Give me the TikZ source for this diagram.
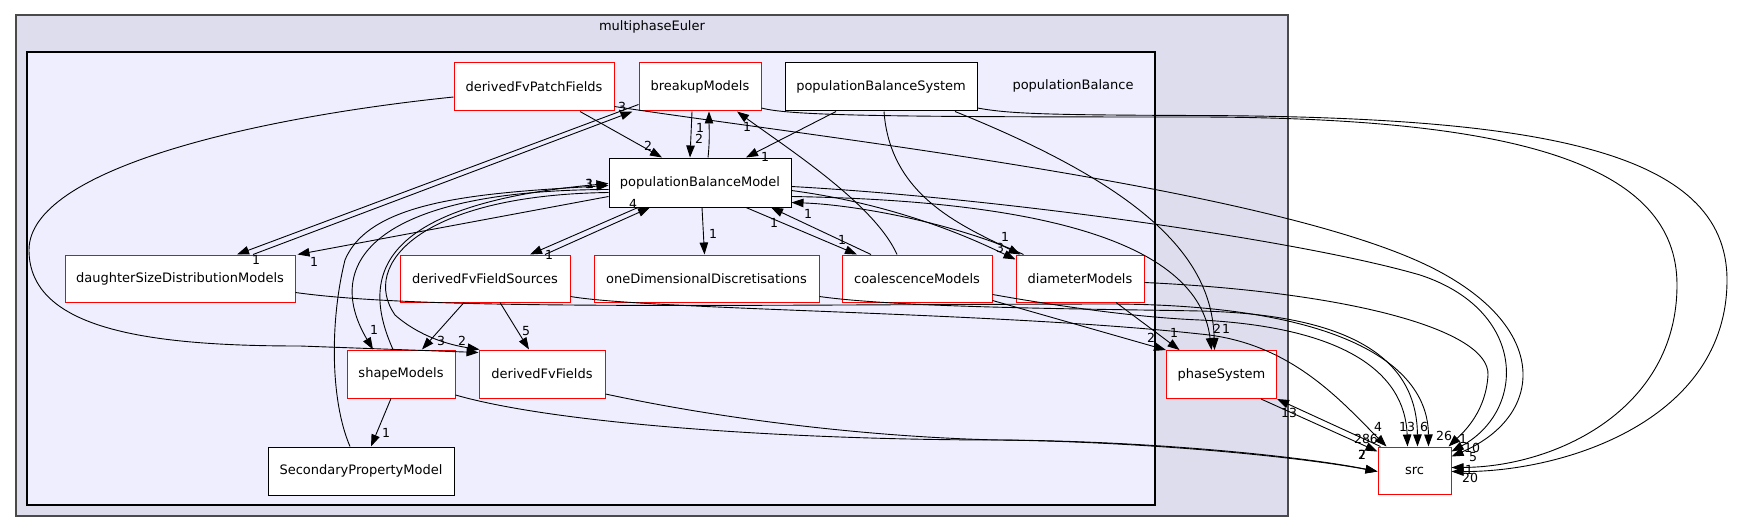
\documentclass[tikz,border=0pt]{standalone}
\usepackage{fontspec}
\setmainfont{DejaVu Sans}
\usetikzlibrary{arrows.meta}
\definecolor{outerfill}{HTML}{DDDDEE}
\definecolor{innerfill}{HTML}{EEEEFF}
\definecolor{outerline}{HTML}{4A4A4A}
\definecolor{redline}{HTML}{FF0000}
\tikzset{
  dirred/.style={draw=redline, fill=white, line width=1pt, inner sep=0pt, minimum height=48pt, font=\fontsize{13}{15}\selectfont},
  dirblk/.style={dirred, draw=black},
  dep/.style={-{Triangle[length=12pt,width=8.5pt]}, line width=0.9pt},
  lab/.style={font=\fontsize{12.5}{14}\selectfont, inner sep=0pt},
  clab/.style={font=\fontsize{13}{15}\selectfont, inner sep=0pt},
}
\begin{document}
\begin{tikzpicture}[x=1pt,y=-1pt]
\useasboundingbox (0,0) rectangle (1745,532);
\fill[white] (0,0) rectangle (1745,532);
\draw[outerline, fill=outerfill, line width=2pt] (15.5,15.5) rectangle (1288,516);
\draw[black, fill=innerfill, line width=1.2pt] (27,52) rectangle (1155,505);
\node[clab] (lme) at (652,27) {multiphaseEuler};
\node[clab] (lpb) at (1073,86) {populationBalance};

% nodes
\node[dirred, minimum width=160pt] (dfpf) at (534,87) {derivedFvPatchFields};
\node[dirred, minimum width=122pt] (brk) at (700,87) {breakupModels};
\node[dirblk, minimum width=192pt] (pbs) at (881,87) {populationBalanceSystem};
\node[dirblk, minimum width=182pt, minimum height=49pt] (pbm) at (700,182.5) {populationBalanceModel};
\node[dirred, minimum width=230pt, minimum height=47pt] (dsd) at (180,278.5) {daughterSizeDistributionModels};
\node[dirred, minimum width=170pt, minimum height=47pt] (dffs) at (485,278.5) {derivedFvFieldSources};
\node[dirred, minimum width=225pt, minimum height=47pt] (odd) at (706.5,278.5) {oneDimensionalDiscretisations};
\node[dirred, minimum width=150pt, minimum height=47pt] (coal) at (917,278.5) {coalescenceModels};
\node[dirred, minimum width=128pt, minimum height=47pt] (diam) at (1080,278.5) {diameterModels};
\node[dirred, minimum width=108pt] (shape) at (401,374) {shapeModels};
\node[dirred, minimum width=126pt] (dff) at (542,374) {derivedFvFields};
\node[dirred, minimum width=110pt, minimum height=48pt] (phase) at (1221.5,374.5) {phaseSystem};
\node[dirblk, minimum width=186pt] (spm) at (361,471) {SecondaryPropertyModel};
\node[dirred, minimum width=73pt, minimum height=47pt] (src) at (1414.5,470.5) {src};

% edges inside
\draw[dep] ([xshift=46pt]dfpf.south) -- ([xshift=-38pt]pbm.north);
\node[lab] (l1) at (648,146) {2};
\draw[dep] ([yshift=-10pt]dfpf.west) .. controls (250,118) and (29,170) .. (29,250) .. controls (29,330) and (150,346) .. (300,346) -- ([yshift=-3pt]dff.north west);
\draw[dep] ([xshift=-8pt]brk.south) -- ([xshift=-10pt]pbm.north);
\node[lab] (l2) at (699,139) {2};
\draw[dep] ([xshift=8pt]pbm.north) .. controls (710,140) and (709,125) .. ([xshift=9pt]brk.south);
\node[lab] (l3) at (700,128) {1};
\draw[dep] ([xshift=-45pt]pbs.south) -- ([xshift=46pt]pbm.north);
\node[lab] (l4) at (765,157) {1};
\draw[dep] ([xshift=3pt]pbs.south) .. controls (890,195) and (960,225) .. ([xshift=5pt]diam.north west);
\node[lab] (l5) at (1005,237) {1};
\draw[dep] ([xshift=74pt]pbs.south) .. controls (1150,190) and (1212,260) .. ([xshift=-7pt]phase.north);
\node[lab] (l6) at (1226,329) {1};
\draw[dep] ([yshift=-14pt]pbm.east) .. controls (1000,200) and (1197,230) .. ([xshift=-10pt]phase.north);
\node[lab] (l7) at (1217,329) {2};
\draw[dep] ([yshift=-8pt]pbm.east) .. controls (900,205) and (975,240) .. ([yshift=-5pt]diam.north west);
\node[lab] (l8) at (1000,248) {3};
\draw[dep] ([xshift=8pt]diam.north west) .. controls (960,225) and (860,205) .. ([yshift=-20pt]pbm.east);
\node[lab] (l9) at (808,214) {1};
\draw[dep] ([xshift=73pt]dsd.north) -- ([xshift=-6pt]brk.south west);
\node[lab] (l10) at (622,107) {3};
\draw[dep] ([yshift=7pt]brk.south west) -- ([xshift=57pt]dsd.north);
\node[lab] (l11) at (256,260) {1};
\draw[dep] ([yshift=-14pt]pbm.west) -- ([xshift=2pt]dsd.north east);
\node[lab] (l12) at (314,262) {1};
\draw[dep] ([xshift=-62pt]pbm.south) -- ([xshift=45pt]dffs.north);
\node[lab] (l13) at (549,255) {1};
\draw[dep] ([xshift=60pt]dffs.north) -- ([xshift=-50pt]pbm.south);
\node[lab] (l14) at (633,204) {4};
\draw[dep] ([xshift=2pt]pbm.south) -- ([xshift=-2pt]odd.north);
\node[lab] (l15) at (713,234) {1};
\draw[dep] ([xshift=46pt]pbm.south) -- ([xshift=-60pt]coal.north);
\node[lab] (l16) at (842,240) {1};
\draw[dep] ([xshift=-46pt]coal.north) -- ([xshift=71pt]pbm.south);
\node[lab] (l17) at (774,223) {1};
\draw[dep] ([xshift=-20pt]coal.north) .. controls (875,205) and (790,150) .. ([xshift=37pt]brk.south);
\node[lab] (l18) at (747,127) {1};
\draw[dep] ([yshift=2pt]coal.south east) -- (phase.north west);
\node[lab] (l19) at (1151,338) {2};
\draw[dep] ([xshift=36pt]diam.south) -- ([xshift=-42pt]phase.north);
\node[lab] (l20) at (1174,333) {1};
\draw[dep] ([xshift=-21pt]dffs.south) -- ([xshift=21pt]shape.north);
\node[lab] (l21) at (441,341) {3};
\draw[dep] ([xshift=15pt]dffs.south) -- ([xshift=-13pt]dff.north);
\node[lab] (l22) at (526,331) {5};
\draw[dep] ([xshift=-10pt]shape.south) -- ([xshift=10pt]spm.north);
\node[lab] (l23) at (386,433) {1};
\draw[dep] ([yshift=-7pt]pbm.west) .. controls (380,190) and (320,260) .. ([xshift=-28pt]shape.north);
\node[lab] (l24) at (374,330) {1};
\draw[dep] ([xshift=-8pt]shape.north) .. controls (362,280) and (370,205) .. ([yshift=-1pt]pbm.west);
\node[lab] (l25) at (589,184) {3};
\draw[dep] ([xshift=-11pt]spm.north) .. controls (330,400) and (330,320) .. (345,260) .. controls (370,200) and (480,193) .. ([yshift=-3pt]pbm.west);
\node[lab] (l26) at (590,184) {1};
\draw[dep] ([yshift=-10pt]pbm.west) .. controls (420,195) and (360,265) .. (395,315) .. controls (420,337) and (450,345) .. ([xshift=1pt]dff.north west);
\node[lab] (l27) at (462,341) {2};

% edges to src
\draw[dep] ([yshift=-14pt]dsd.east) .. controls (420,310) and (700,305) .. (1100,304) .. controls (1330,303) and (1428,360) .. ([xshift=14pt]src.north);
\node[lab] (l28) at (1444,436) {26};
\draw[dep] ([yshift=-18pt]dffs.east) .. controls (650,310) and (1000,312) .. (1200,334) .. controls (1290,342) and (1340,400) .. ([xshift=-28pt]src.north);
\node[lab] (l29) at (1378,427) {4};
\draw[dep] ([yshift=-18pt]odd.east) .. controls (900,308) and (1100,309) .. (1200,311) .. controls (1370,315) and (1417,370) .. ([xshift=3pt]src.north);
\node[lab] (l30) at (1424,427) {6};
\draw[dep] ([yshift=-16pt]coal.east) .. controls (1080,310) and (1150,318) .. (1200,320) .. controls (1340,327) and (1405,370) .. ([xshift=-7pt]src.north);
\node[lab] (l31) at (1407,427) {13};
\draw[dep] ([yshift=-4pt]diam.east) .. controls (1350,292) and (1490,330) .. (1488,375) .. controls (1486,410) and (1466,430) .. ([xshift=-3pt]src.north east);
\node[lab] (l32) at (1463,439) {1};
\draw[dep] ([yshift=-4pt]pbm.east) .. controls (1000,198) and (1300,240) .. (1420,275) .. controls (1527,310) and (1527,410) .. ([yshift=-5pt]src.north east);
\node[lab] (l33) at (1472,448) {10};
\draw[dep] ([yshift=5pt]dfpf.south east) .. controls (800,135) and (1250,185) .. (1420,262) .. controls (1552,322) and (1547,415) .. ([yshift=-10pt]src.north east);
\node[lab] (l34) at (1473,457) {5};
\draw[dep] ([yshift=-21pt]brk.east) .. controls (790,116) and (900,117) .. (1200,117) .. controls (1520,118) and (1677,165) .. (1677,285) .. controls (1677,410) and (1555,467) .. ([yshift=3pt]src.east);
\node[lab] (l35) at (1469,470) {1};
\draw[dep] ([yshift=-21pt]pbs.east) .. controls (1010,114) and (1050,115) .. (1200,115.5) .. controls (1540,117) and (1727,150) .. (1727,280) .. controls (1727,420) and (1565,472) .. ([yshift=-1pt]src.east);
\node[lab] (l36) at (1470,478) {20};
\draw[dep] ([yshift=-21pt]shape.east) .. controls (560,425) and (800,440) .. (1000,440) .. controls (1150,441) and (1300,456) .. ([yshift=-1pt]src.west);
\node[lab] (l37) at (1362,455) {7};
\draw[dep] ([yshift=-20pt]dff.east) .. controls (750,425) and (900,438) .. (1000,440) .. controls (1150,442) and (1300,457) .. ([yshift=-1pt]src.west);
\node[lab] (l38) at (1362,455) {2};
\draw[dep] ([xshift=-16pt]phase.south east) -- ([yshift=-5pt]src.north west);
\node[lab] (l39) at (1366,439) {286};
\draw[dep] ([xshift=3pt]src.north west) -- (phase.south east);
\node[lab] (l40) at (1289,413) {13};
\end{tikzpicture}
\end{document}
